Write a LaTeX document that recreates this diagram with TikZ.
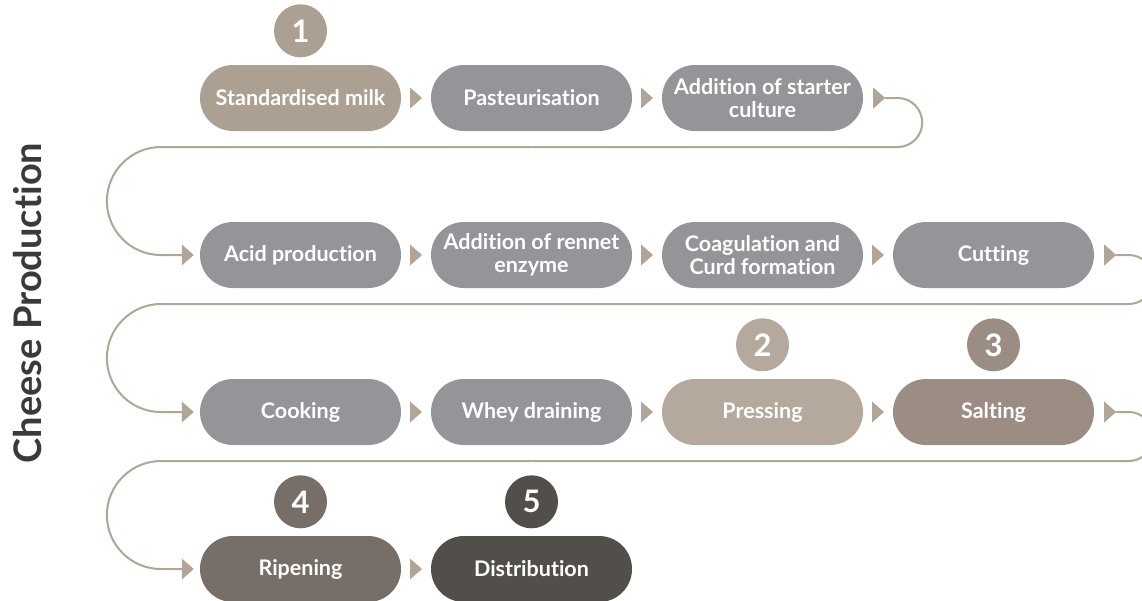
\documentclass[tikz,border=0pt]{standalone}
\usepackage{fontspec}
\setmainfont{Lato}[Ligatures=NoCommon]
\usetikzlibrary{calc}
\definecolor{greyc}{HTML}{939598}
\definecolor{tanc}{HTML}{ACA092}
\definecolor{pressc}{HTML}{B4A99C}
\definecolor{saltc}{HTML}{9B8D83}
\definecolor{ripec}{HTML}{776E67}
\definecolor{distc}{HTML}{524F4A}
\definecolor{linec}{HTML}{B0A596}
\definecolor{titlec}{HTML}{3A3A3A}
\newcommand\stepTri[1]{\fill[linec] #1 ++(-6,-10.5) -- ++(12,10.5) -- ++(-12,10.5) -- cycle;}
\begin{document}
\begin{tikzpicture}[x=1pt,y=-1pt,
  stepbox/.style={rectangle, rounded corners=32.9pt, minimum width=201pt, minimum height=66pt,
    inner sep=0pt, text=white, fill=greyc, font=\bfseries\fontsize{21.5}{23.5}\selectfont, align=center},
  numc/.style={circle, minimum size=53pt, inner sep=0pt, text=white,
    font=\bfseries\fontsize{31}{31}\selectfont},
  loopline/.style={draw=linec, line width=2pt}]
\useasboundingbox (0,0) rectangle (1142,600);
\node[rotate=90, text=titlec, font=\bfseries\fontsize{38}{38}\selectfont] (title) at (28,303) {Cheese Production};
% row 1
\node[stepbox, fill=tanc] (n1) at (300.5,98) {Standardised milk};
\node[stepbox] (n2) at (531.5,98) {Pasteurisation};
\node[stepbox] (n3) at (762.5,98) {Addition of starter\\culture};
% row 2
\node[stepbox] (n4) at (300.5,255) {Acid production};
\node[stepbox] (n5) at (531.5,255) {Addition of rennet\\enzyme};
\node[stepbox] (n6) at (762.5,255) {Coagulation and\\Curd formation};
\node[stepbox] (n7) at (993.5,255) {Cutting};
% row 3
\node[stepbox] (n8) at (300.5,412) {Cooking};
\node[stepbox] (n9) at (531.5,412) {Whey draining};
\node[stepbox, fill=pressc] (n10) at (762.5,412) {Pressing};
\node[stepbox, fill=saltc] (n11) at (993.5,412) {Salting};
% row 4
\node[stepbox, fill=ripec] (n12) at (300.5,569) {Ripening};
\node[stepbox, fill=distc] (n13) at (531.5,569) {Distribution};
% number circles
\node[numc, fill=tanc] (c1) at ($(n1.north)+(0,-34)$) {1};
\node[numc, fill=pressc] (c2) at ($(n10.north)+(0,-34)$) {2};
\node[numc, fill=saltc] (c3) at ($(n11.north)+(0,-34)$) {3};
\node[numc, fill=ripec] (c4) at ($(n12.north)+(0,-34)$) {4};
\node[numc, fill=distc] (c5) at ($(n13.north)+(0,-34)$) {5};
% between-node arrows
\stepTri{($(n1.east)!.5!(n2.west)$)}
\stepTri{($(n2.east)!.5!(n3.west)$)}
\stepTri{($(n4.east)!.5!(n5.west)$)}
\stepTri{($(n5.east)!.5!(n6.west)$)}
\stepTri{($(n6.east)!.5!(n7.west)$)}
\stepTri{($(n8.east)!.5!(n9.west)$)}
\stepTri{($(n9.east)!.5!(n10.west)$)}
\stepTri{($(n10.east)!.5!(n11.west)$)}
\stepTri{($(n12.east)!.5!(n13.west)$)}
% loop 1: n3 -> n4
\stepTri{($(n3.east)+(16,0)$)}
\draw[loopline, rounded corners=24.5pt] ($(n3.east)+(22,0)$) -- ($(n3.east)+(59,0)$) -- ($(n3.east)+(59,49)$) -- ($(n2.center)+(0,49)$);
\draw[loopline, rounded corners=54pt] ($(n2.center)+(0,49)$) -- ($(n1.center)+(-193.5,49)$) -- ($(n4.west)+(-93,0)$) -- ($(n4.west)+(-18,0)$);
\stepTri{($(n4.west)+(-12,0)$)}
% loop 2: n7 -> n8
\stepTri{($(n7.east)+(16,0)$)}
\draw[loopline, rounded corners=24.5pt] ($(n7.east)+(22,0)$) -- ($(n7.east)+(59,0)$) -- ($(n7.east)+(59,49)$) -- ($(n5.center)+(0,49)$);
\draw[loopline, rounded corners=54pt] ($(n5.center)+(0,49)$) -- ($(n4.center)+(-193.5,49)$) -- ($(n8.west)+(-93,0)$) -- ($(n8.west)+(-18,0)$);
\stepTri{($(n8.west)+(-12,0)$)}
% loop 3: n11 -> n12
\stepTri{($(n11.east)+(16,0)$)}
\draw[loopline, rounded corners=24.5pt] ($(n11.east)+(22,0)$) -- ($(n11.east)+(59,0)$) -- ($(n11.east)+(59,49)$) -- ($(n9.center)+(0,49)$);
\draw[loopline, rounded corners=54pt] ($(n9.center)+(0,49)$) -- ($(n8.center)+(-193.5,49)$) -- ($(n12.west)+(-93,0)$) -- ($(n12.west)+(-18,0)$);
\stepTri{($(n12.west)+(-12,0)$)}
\end{tikzpicture}
\end{document}
